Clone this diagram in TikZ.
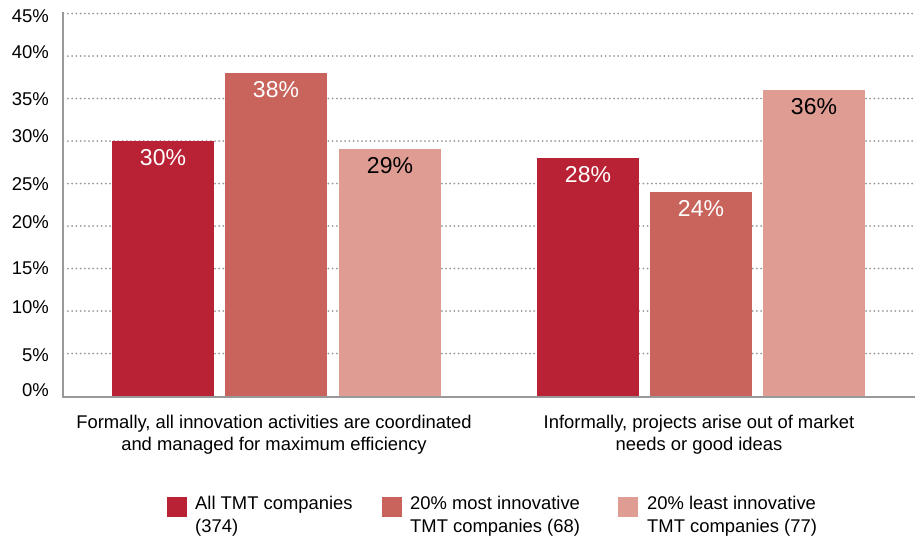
\documentclass[tikz,border=0pt]{standalone}
\usepackage{fontspec}
\setmainfont{Liberation Sans}
\usetikzlibrary{calc}
\definecolor{cA}{HTML}{B82234}
\definecolor{cB}{HTML}{C9645C}
\definecolor{cC}{HTML}{DE9C92}
\definecolor{gridc}{HTML}{999999}
\begin{document}
\begin{tikzpicture}[x=1pt,y=-1pt,
  gridline/.style={gridc,line width=2pt,line cap=round,dash pattern=on 0pt off 4.2pt},
  axisline/.style={gridc,line width=2.2pt},
  bar/.style={anchor=south,inner sep=0pt,minimum width=102pt,draw=none},
  vlab/.style={font=\fontsize{23}{26}\selectfont,inner sep=0pt},
  ylab/.style={anchor=east,font=\fontsize{18.5}{20}\selectfont,inner sep=0pt},
  catlab/.style={align=center,font=\fontsize{18.4}{22}\selectfont,inner sep=0pt},
  legbox/.style={inner sep=0pt,minimum width=20pt,minimum height=20pt},
  legtext/.style={anchor=north west,align=left,font=\fontsize{18.4}{23}\selectfont,inner sep=0pt}]
\useasboundingbox (0,0) rectangle (920,542);
% grid
\foreach \v in {5,10,...,45}
  \draw[gridline] (68,{396-\v*8.5}) -- (915,{396-\v*8.5});
% axes
\coordinate (top) at (63,12);
\coordinate (origin) at (63,397);
\coordinate (right) at (915,397);
\draw[axisline] (top) -- (origin) -- (right);
% y labels
\foreach \v/\y in {45/16,40/52,35/99,30/136,25/184,20/222,15/268,10/307,5/355,0/390}
  \node[ylab] (y\v) at (49,\y) {\v\%};
% bars
\node[bar,fill=cA,minimum height={30*8.5pt}] (b1) at (163,396) {};
\node[bar,fill=cB,minimum height={38*8.5pt}] (b2) at (276,396) {};
\node[bar,fill=cC,minimum height={29*8.5pt}] (b3) at (390,396) {};
\node[bar,fill=cA,minimum height={28*8.5pt}] (b4) at (588,396) {};
\node[bar,fill=cB,minimum height={24*8.5pt}] (b5) at (701,396) {};
\node[bar,fill=cC,minimum height={36*8.5pt}] (b6) at (814,396) {};
% value labels
\node[vlab,text=white] (l1) at ([yshift=-16.5pt]b1.north) {30\%};
\node[vlab,text=white] (l2) at ([yshift=-16.5pt]b2.north) {38\%};
\node[vlab,text=black] (l3) at ([yshift=-16.5pt]b3.north) {29\%};
\node[vlab,text=white] (l4) at ([yshift=-16.5pt]b4.north) {28\%};
\node[vlab,text=white] (l5) at ([yshift=-16.5pt]b5.north) {24\%};
\node[vlab,text=black] (l6) at ([yshift=-16.5pt]b6.north) {36\%};
% category labels
\node[catlab] (c1) at (274,435) {Formally, all innovation activities are coordinated\\and managed for maximum efficiency};
\node[catlab] (c2) at (699,435) {Informally, projects arise out of market\\needs or good ideas};
% legend
\node[legbox,fill=cA] (k1) at (177,507) {};
\node[legtext] (t1) at (195,496) {All TMT companies\\(374)};
\node[legbox,fill=cB] (k2) at (392,507) {};
\node[legtext] (t2) at (410,496) {20\% most innovative\\TMT companies (68)};
\node[legbox,fill=cC] (k3) at (628,507) {};
\node[legtext] (t3) at (647,496) {20\% least innovative\\TMT companies (77)};
\end{tikzpicture}
\end{document}
